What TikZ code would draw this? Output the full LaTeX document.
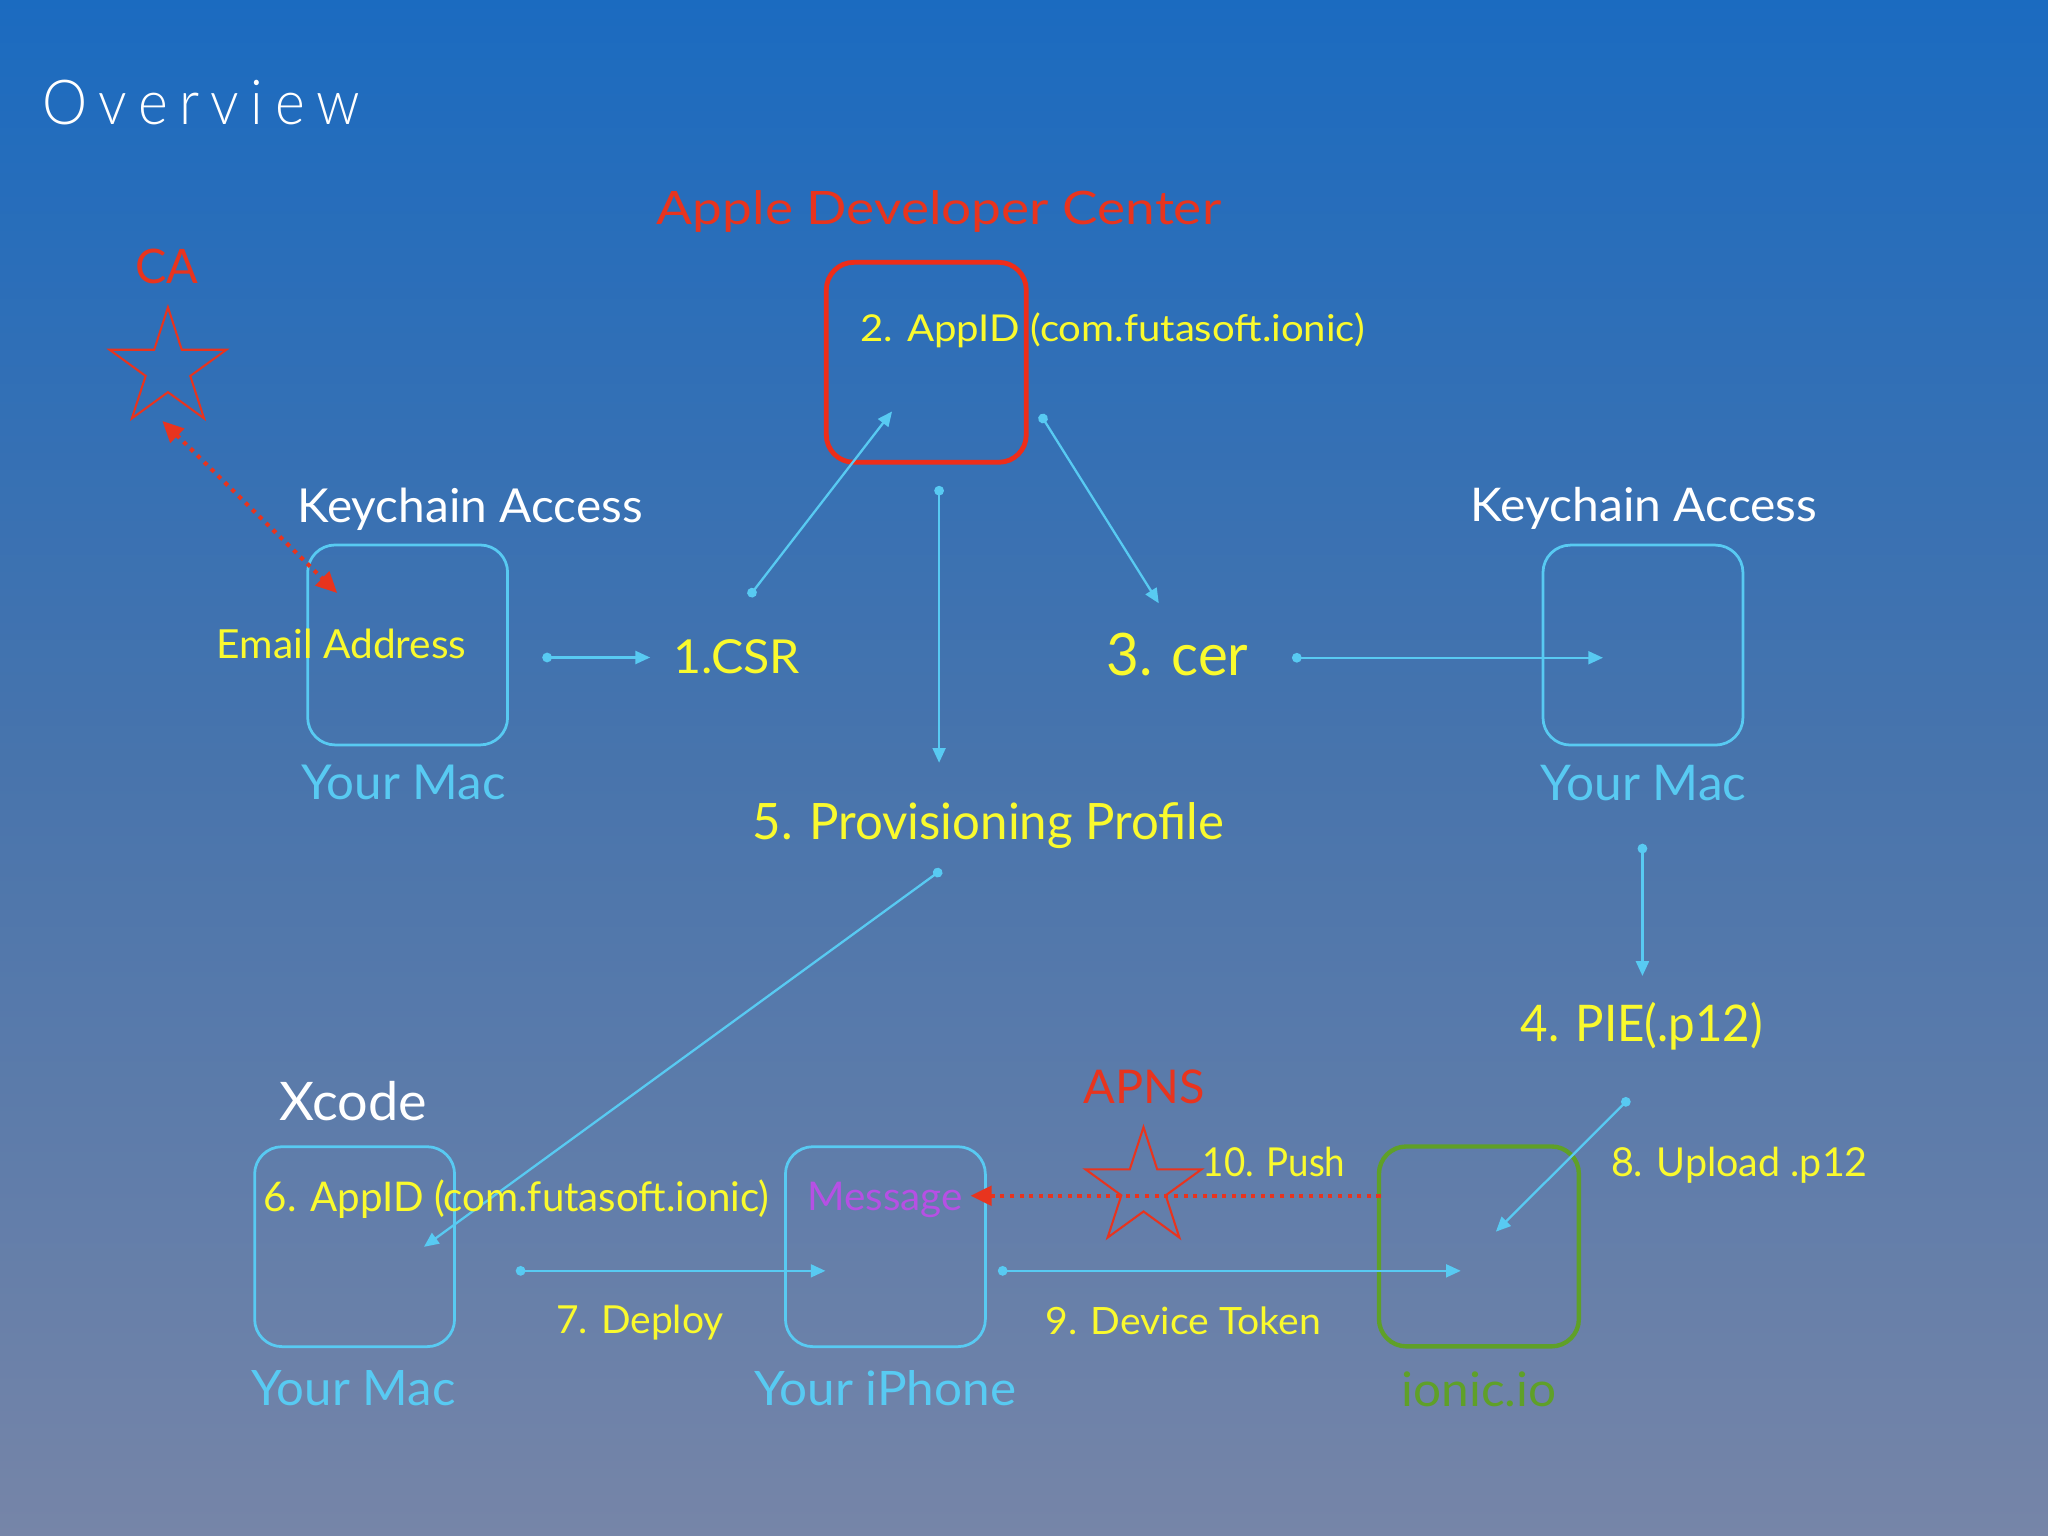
\documentclass[tikz,border=0pt]{standalone}
\usepackage{fontspec}
\setmainfont{Lato}
\newfontfamily\thinfont{Lato Light}
\usepackage{graphicx}
\usetikzlibrary{arrows.meta,shapes.geometric}
\setlength{\unitlength}{0.01cm}
\newcommand{\rsTxt}[3]{\resizebox{#1\unitlength}{#2\unitlength}{#3}}
\definecolor{bgtop}{RGB}{27,107,192}
\definecolor{bgmid}{RGB}{72,116,172}
\definecolor{bgbot}{RGB}{118,133,168}
\definecolor{cyanln}{RGB}{88,202,242}
\definecolor{ylw}{RGB}{250,250,45}
\definecolor{redt}{RGB}{232,52,30}
\definecolor{redbox}{RGB}{238,45,25}
\definecolor{greenbx}{RGB}{95,160,40}
\definecolor{purp}{RGB}{182,80,228}
\tikzset{
  lbl/.style={anchor=base west, inner sep=0pt, outer sep=0pt},
  devbox/.style={draw=cyanln, line width=0.6pt, rounded corners=0.21cm,
    minimum width=1.53cm, minimum height=1.53cm, inner sep=0pt},
  flow/.style={draw=cyanln, line width=0.5pt,
    {Circle[length=2.1pt]}-{Triangle[length=3.2pt,width=2.8pt]}},
  redflow/.style={draw=redt, line width=0.9pt, dash pattern=on 0.9pt off 1.2pt},
  starmark/.style={star, star points=5, star point ratio=2.618, draw=redt,
    line width=0.45pt, inner sep=0pt}
}
\begin{document}
\begin{tikzpicture}[x=0.01cm, y=-0.01cm]
\useasboundingbox (0,0) rectangle (1568,1176);
\shade[top color=bgtop, bottom color=bgbot, middle color=bgmid] (0,0) rectangle (1568,1176);

% boxes
\node[devbox] (macL) at (312.1,493.8) {};
\node[devbox, draw=redbox, line width=1.05pt] (adc) at (709.2,277.4) {};
\node[devbox] (macR) at (1257.9,493.9) {};
\node[devbox] (macB) at (271.5,954.5) {};
\node[devbox] (phone) at (677.9,954.5) {};
\node[devbox, draw=greenbx, line width=0.95pt] (ionic) at (1132.3,954.3) {};

% stars
\node[starmark, minimum size=0.94cm] (castar) at (128.6,282.3) {};
\node[starmark, minimum size=0.934cm] (apnsstar) at (875.5,909.7) {};

% connector end points
\coordinate (a1s) at (415.2,503.4);   \coordinate (a1e) at (497.8,503.4);
\coordinate (a2s) at (573.5,456.7);   \coordinate (a2e) at (683,315);
\coordinate (a3s) at (796.6,317.3);   \coordinate (a3e) at (887.2,461.9);
\coordinate (a4s) at (719,372);       \coordinate (a4e) at (719,584);
\coordinate (a5s) at (989.2,503.6);   \coordinate (a5e) at (1227.3,503.6);
\coordinate (a6s) at (1257.5,646);    \coordinate (a6e) at (1257.5,747.2);
\coordinate (a7s) at (720.9,665.9);   \coordinate (a7e) at (324.6,954.6);
\coordinate (a8s) at (394.9,973);     \coordinate (a8e) at (632,973);
\coordinate (a9s) at (764,973);       \coordinate (a9e) at (1118.4,973);
\coordinate (a10s) at (1247.4,841);   \coordinate (a10e) at (1145.3,943);
\coordinate (cas) at (124.3,322.3);   \coordinate (cae) at (258.2,454.1);
\coordinate (pss) at (1057,915.5);    \coordinate (pse) at (743,915.5);

\draw[flow] (a1s) -- (a1e);
\draw[flow] (a2s) -- (a2e);
\draw[flow] (a3s) -- (a3e);
\draw[flow] (a4s) -- (a4e);
\draw[flow] (a5s) -- (a5e);
\draw[flow] (a6s) -- (a6e);
\draw[flow] (a7s) -- (a7e);
\draw[flow] (a8s) -- (a8e);
\draw[flow] (a9s) -- (a9e);
\draw[flow] (a10s) -- (a10e);
\draw[redflow, {Triangle[length=4.6pt,width=4.2pt]}-{Triangle[length=4.6pt,width=4.2pt]}] (cas) -- (cae);
\draw[redflow, -{Triangle[length=4.6pt,width=4.2pt]}] (pss) -- (pse);

% texts
\node[lbl, text=white] (ov) at (32.5,95) {\rsTxt{242.7}{34}{\thinfont\addfontfeature{LetterSpace=20}Overview}};
\node[lbl, text=redt] (adct) at (503,172) {\rsTxt{432}{26}{Apple Developer Center}};
\node[lbl, text=redt] (cat) at (103.7,216.8) {\rsTxt{48.3}{26.4}{CA}};
\node[lbl, text=white] (kcl) at (227.7,400) {\rsTxt{264.3}{26.4}{Keychain Access}};
\node[lbl, text=white] (kcr) at (1126.2,399.5) {\rsTxt{265.1}{26.2}{Keychain Access}};
\node[lbl, text=ylw] (email) at (166,504) {\rsTxt{191.2}{22.6}{Email Address}};
\node[lbl, text=cyanln] (yml) at (230.6,612.4) {\rsTxt{156.5}{26.4}{Your Mac}};
\node[lbl, text=cyanln] (ymr) at (1179.8,612.9) {\rsTxt{157.4}{27}{Your Mac}};
\node[lbl, text=ylw] (appid2) at (659,261.6) {\rsTxt{386}{22}{2. AppID (com.futasoft.ionic)}};
\node[lbl, text=ylw] (csr) at (515.3,515.5) {\rsTxt{97.3}{26}{1.CSR}};
\node[lbl, text=ylw] (cer) at (847,517.2) {\rsTxt{108.8}{32.5}{3. cer}};
\node[lbl, text=ylw] (prov) at (576.2,643) {\rsTxt{361}{28.3}{5. Provisioning Profile}};
\node[lbl, text=ylw] (pie) at (1164.3,797.5) {\rsTxt{185.5}{30}{4. PIE(.p12)}};
\node[lbl, text=white] (xcode) at (214,858) {\rsTxt{113}{30}{Xcode}};
\node[lbl, text=ylw] (appid6) at (202,927.8) {\rsTxt{387}{24.3}{6. AppID (com.futasoft.ionic)}};
\node[lbl, text=purp] (msg) at (618,926.5) {\rsTxt{119}{21.7}{Message}};
\node[lbl, text=cyanln] (ymb) at (192.7,1075.8) {\rsTxt{156}{26.8}{Your Mac}};
\node[lbl, text=cyanln] (yip) at (577.3,1075.8) {\rsTxt{200.7}{26.8}{Your iPhone}};
\node[lbl, text=ylw] (deploy) at (425.7,1020.8) {\rsTxt{128.3}{21.8}{7. Deploy}};
\node[lbl, text=ylw] (token) at (800.5,1021.7) {\rsTxt{211}{21.2}{9. Device Token}};
\node[lbl, text=greenbx] (ionict) at (1073,1076.6) {\rsTxt{118.6}{26.6}{ionic.io}};
\node[lbl, text=ylw] (upload) at (1233.5,900.5) {\rsTxt{196.5}{22.5}{8. Upload .p12}};
\node[lbl, text=ylw] (push) at (921,900.5) {\rsTxt{109}{22.5}{10. Push}};
\node[lbl, text=redt] (apns) at (829.7,844.8) {\rsTxt{92.8}{25.8}{APNS}};
\end{tikzpicture}
\end{document}
